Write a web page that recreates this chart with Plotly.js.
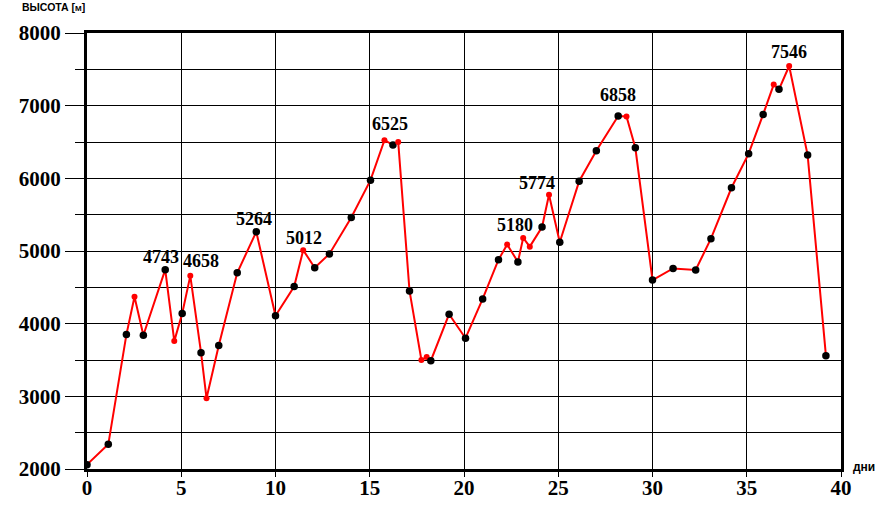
<!DOCTYPE html>
<html>
<head>
<meta charset="utf-8">
<script src="https://cdn.plot.ly/plotly-3.0.1.min.js"></script>
<style>html,body{margin:0;padding:0;background:#fff;}#chart{width:894px;height:515px;}</style>
</head>
<body>
<div id="chart"></div>
<script>
// ---- data ----
const days = [0, 1.13, 2.09, 2.52, 2.99, 4.15, 4.63, 5.05, 5.48, 6.05, 6.34, 6.99, 7.97, 8.98, 10.0, 10.99,
  11.47, 12.08, 12.86, 14.02, 15.04, 15.78, 16.23, 16.51, 17.11, 17.74, 18.02, 18.24, 19.21, 20.08,
  20.99, 21.83, 22.29, 22.86, 23.14, 23.49, 24.14, 24.51, 25.08, 26.11, 27.02, 28.18, 28.62, 29.09,
  30.0, 31.09, 32.29, 33.1, 34.19, 35.1, 35.87, 36.43, 36.71, 37.25, 38.23, 39.2];
const heights = [2060, 2340, 3850, 4370, 3840, 4743, 3760, 4140, 4658, 3600, 2975, 3700, 4700, 5264, 4110, 4510,
  5012, 4770, 4960, 5460, 5975, 6525, 6460, 6500, 4450, 3500, 3540, 3490, 4130, 3800,
  4340, 4880, 5090, 4850, 5180, 5060, 5330, 5774, 5120, 5960, 6380, 6858, 6850, 6420,
  4600, 4760, 4740, 5170, 5870, 6340, 6880, 7290, 7225, 7546, 6320, 3560];
// indices of points drawn with red markers
const redPoints = [3, 6, 8, 10, 16, 21, 23, 25, 26, 32, 34, 35, 37, 42, 51, 53];
// labelled peaks (index into data)
const peakIdx = [5, 8, 13, 16, 21, 34, 37, 41, 53];
const xTicks = [0, 5, 10, 15, 20, 25, 30, 35, 40];
const yTicks = [2000, 3000, 4000, 5000, 6000, 7000, 8000];
const yTitle = 'ВЫСОТА [<span style="font-size:8px">М</span>]';
const xTitle = 'дни';

// ---- style ----
const labelShift = [[-4, 1], [11, 3], [-2, 1], [1, 0], [6, 4], [-8, 1], [-12, 0], [0, 9], [0, 2]];
const mColors = heights.map((_, i) => redPoints.includes(i) ? '#ff0000' : '#000000');
const mSizes = heights.map((_, i) => redPoints.includes(i) ? 6 : 7.5);

const trace = {
  x: days, y: heights, type: 'scatter', mode: 'lines+markers',
  line: {color: '#ff0000', width: 2},
  marker: {color: mColors, size: mSizes, opacity: 1, line: {width: 0}},
  hoverinfo: 'x+y'
};

const annotations = peakIdx.map((k, j) => ({
  x: days[k], y: heights[k], xref: 'x', yref: 'y', text: String(heights[k]),
  showarrow: false, xanchor: 'center', yanchor: 'bottom',
  xshift: labelShift[j][0], yshift: labelShift[j][1],
  font: {family: 'Liberation Serif', size: 18, color: '#000', weight: 'bold'}
}));
annotations.push({
  xref: 'paper', yref: 'paper', x: -0.089, y: 1.06, xanchor: 'left', yanchor: 'middle',
  text: yTitle, showarrow: false,
  font: {family: 'Liberation Sans', size: 10.5, color: '#000', weight: 'bold'}
});
annotations.push({
  xref: 'paper', yref: 'paper', x: 1.013, y: 0.005, xanchor: 'left', yanchor: 'middle',
  text: xTitle, showarrow: false,
  font: {family: 'Liberation Sans', size: 12, color: '#000', weight: 'bold'}
});

const tickFont = {family: 'Liberation Serif', size: 21, color: '#000', weight: 'bold'};

const layout = {
  width: 894, height: 515,
  margin: {l: 87, r: 53, t: 33, b: 46},
  paper_bgcolor: '#fff', plot_bgcolor: '#fff',
  showlegend: false,
  xaxis: {
    range: [0, 40], tickvals: xTicks, ticktext: xTicks.map(String),
    showgrid: true, gridcolor: '#000', gridwidth: 1,
    showline: true, mirror: true, linecolor: '#000', linewidth: 3,
    ticks: 'outside', ticklen: 5, tickwidth: 1, tickcolor: '#000',
    ticklabelstandoff: -7,
    zeroline: false, tickfont: tickFont, fixedrange: true
  },
  yaxis: {
    range: [2000, 8000], tickvals: yTicks, ticktext: yTicks.map(String),
    showgrid: true, gridcolor: '#000', gridwidth: 1,
    showline: true, mirror: true, linecolor: '#000', linewidth: 3,
    ticks: 'outside', ticklen: 19, tickwidth: 1, tickcolor: '#000',
    ticklabelstandoff: 0,
    minor: {tick0: 2000, dtick: 500, showgrid: true, gridcolor: '#000', gridwidth: 1,
            ticks: 'outside', ticklen: 9, tickwidth: 1, tickcolor: '#000'},
    zeroline: false, tickfont: tickFont, fixedrange: true
  },
  annotations: annotations
};

Plotly.newPlot('chart', [trace], layout, {displayModeBar: false, staticPlot: true});
</script>
</body>
</html>
